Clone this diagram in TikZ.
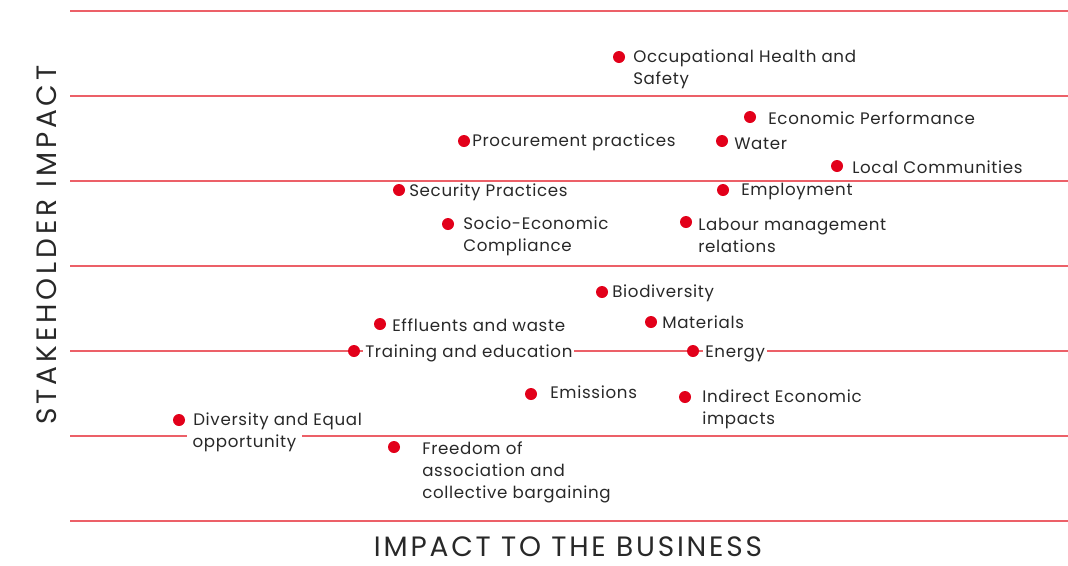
\documentclass[tikz,border=0pt]{standalone}
\usepackage{fontspec}
\setmainfont{Poppins}
\definecolor{dotred}{RGB}{226,0,26}
\definecolor{gridred}{RGB}{236,96,104}
\definecolor{txtgray}{RGB}{40,40,40}
\tikzset{
  dot/.style={circle,fill=dotred,inner sep=0pt,minimum size=9pt},
  lbl/.style={anchor=west,align=left,inner sep=1.5pt,text=txtgray,yshift=-1.2pt,
    font=\fontsize{12.5}{16.5}\selectfont\addfontfeature{LetterSpace=4}},
  lblw/.style={lbl,fill=white},
  gridline/.style={gridred,line width=0.9pt},
  axis/.style={text=txtgray,inner sep=0pt,font=\fontsize{21}{25}\selectfont\addfontfeature{LetterSpace=10}}
}
\begin{document}
\begin{tikzpicture}[x=0.75pt,y=-0.75pt]
  \useasboundingbox (0,0) rectangle (1068,565);
  % grid
  \foreach \yy in {11,96,181,266,351,436,521}
    \draw[gridline] (70,\yy) -- (1068,\yy);
  % axis titles
  \node[axis] (xaxis) at (568,547) {IMPACT TO THE BUSINESS};
  \node[axis,rotate=90,font=\fontsize{21}{25}\selectfont\addfontfeature{LetterSpace=14}] (yaxis) at (47,245) {STAKEHOLDER IMPACT};
  % labels
  \draw
    (631,68) node[lbl] (ohsT){Occupational Health and\\Safety}
    (766,117) node[lbl] (ecoT){Economic Performance}
    (470,141) node[lbl] (procT){Procurement practices}
    (732,142) node[lbl] (watT){Water}
    (850,166) node[lbl] (locT){Local Communities}
    (407,191) node[lbl] (secT){Security Practices}
    (739,190) node[lbl] (empT){Employment}
    (461,235) node[lbl] (socT){Socio-Economic\\Compliance}
    (696,234) node[lbl] (labT){Labour management\\relations}
    (610,292) node[lbl] (bioT){Biodiversity}
    (390,324) node[lbl] (effT){Effluents and waste}
    (660,321) node[lbl] (matT){Materials}
    (363,352) node[lblw] (traT){Training and education}
    (703,352) node[lblw] (eneT){Energy}
    (548,391) node[lbl] (emiT){Emissions}
    (700,408) node[lbl] (indT){Indirect Economic\\impacts}
    (191,420) node[lbl] (divT){Diversity and Equal}
    (187,442) node[lblw,inner xsep=4pt] (divT2){opportunity}
    (420,471) node[lbl] (freT){Freedom of\\association and\\collective bargaining};
  % dots
  \draw
    (619,57) node[dot] (ohs){}
    (750,117) node[dot] (eco){}
    (464,141) node[dot] (proc){}
    (722,141) node[dot] (wat){}
    (837,166) node[dot] (loc){}
    (399,190) node[dot] (sec){}
    (723,190) node[dot] (emp){}
    (448,224) node[dot] (soc){}
    (686,222) node[dot] (lab){}
    (602,292) node[dot] (bio){}
    (380,324) node[dot] (eff){}
    (651,322) node[dot] (mat){}
    (354,351) node[dot] (tra){}
    (693,351) node[dot] (ene){}
    (531,394) node[dot] (emi){}
    (685,397) node[dot] (ind){}
    (179,420) node[dot] (div){}
    (394,447) node[dot] (fre){};
\end{tikzpicture}
\end{document}
